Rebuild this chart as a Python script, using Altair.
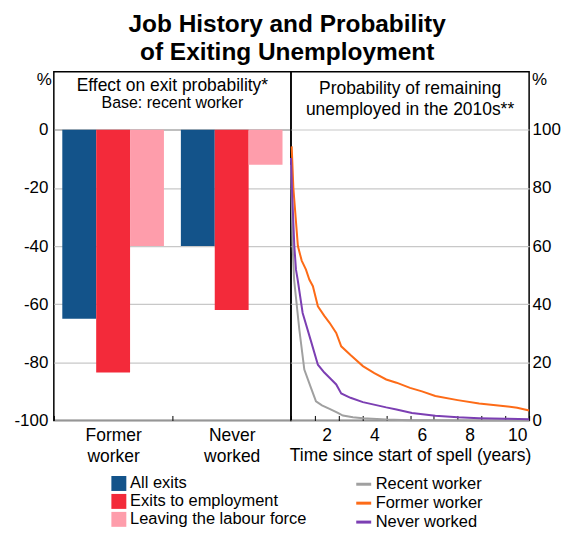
import altair as alt
import pandas as pd

# ---------------- data ----------------
groups = ["Former worker", "Never worked"]
bar_series = ["All exits", "Exits to employment", "Leaving the labour force"]
former_worker_effect = [-65, -83.5, -40]
never_worked_effect = [-40, -62, -12]
bar_colors = ["#13538a", "#f32a3a", "#fe9dab"]

line_series = ["Recent worker", "Former worker", "Never worked"]
line_colors = ["#a0a0a0", "#fd6b17", "#7c3fb3"]

recent_years = [0.0, 0.07, 0.13, 0.35, 0.56, 0.84, 1.05, 1.3, 1.62, 1.97, 2.18, 2.6, 3.02, 4.0, 5.0, 6.0, 8.0, 10.0]
recent_vals = [88, 60, 48.5, 31.3, 17.5, 11.2, 6.6, 5.2, 4.0, 2.6, 1.7, 1.1, 0.8, 0.3, 0.1, 0.05, 0.0, 0.0]

former_years = [0.03, 0.1, 0.29, 0.45, 0.63, 0.77, 0.92, 1.13, 1.4, 1.62, 1.9, 2.11, 2.5, 3.02, 3.5, 4.0, 4.43, 5.0, 5.5, 6.06, 7.0, 7.9, 9.0, 9.5, 10.0]
former_vals = [94.3, 80, 60, 55, 51.9, 48.5, 46.2, 39.3, 36, 33.6, 30.1, 25.5, 22.5, 18.7, 16.3, 14.1, 13.0, 11.2, 10.0, 8.4, 7.0, 5.8, 4.9, 4.4, 3.4]

never_years = [0.0, 0.04, 0.14, 0.21, 0.28, 0.49, 0.84, 1.13, 1.4, 1.62, 1.9, 2.11, 2.5, 3.02, 4.0, 4.43, 5.08, 6.06, 7.0, 7.9, 9.0, 10.0]
never_vals = [90.3, 80, 60, 51.9, 48.5, 37, 27.3, 19.2, 16.5, 14.7, 12.4, 9.3, 7.8, 6.3, 4.5, 3.8, 2.6, 1.6, 1.1, 0.8, 0.6, 0.4]

# ---------------- tables ----------------
bars_df = pd.DataFrame({
    "group": [groups[0]] * 3 + [groups[1]] * 3,
    "series": bar_series * 2,
    "value": former_worker_effect + never_worked_effect,
})

lines_df = pd.concat([
    pd.DataFrame({"series": line_series[0], "year": recent_years, "value": recent_vals}),
    pd.DataFrame({"series": line_series[1], "year": former_years, "value": former_vals}),
    pd.DataFrame({"series": line_series[2], "year": never_years, "value": never_vals}),
], ignore_index=True)
lines_df["order"] = lines_df["series"].map({s: i for i, s in enumerate(line_series)})

PW_L, PW_R, PH = 238, 239, 350
FONT = "Liberation Sans"


def note(text, x, y, size):
    return alt.Chart(pd.DataFrame({"t": [text]})).mark_text(
        fontSize=size, font=FONT, color="black", align="center", baseline="middle"
    ).encode(text="t:N", x=alt.value(x), y=alt.value(y))


# ---------------- left panel ----------------
bars = alt.Chart(bars_df).mark_bar().encode(
    x=alt.X("group:N", sort=groups,
            scale=alt.Scale(paddingInner=0, paddingOuter=0),
            axis=alt.Axis(title=None, labelAngle=0, labelExpr="split(datum.label, ' ')",
                          labelLineHeight=21, tickBand="extent", offset=-5, tickSize=5,
                          domain=False, labelPadding=6, tickColor="black",
                          labelFontSize=17.5)),
    xOffset=alt.XOffset("series:N", sort=bar_series,
                        scale=alt.Scale(paddingInner=0, paddingOuter=0.25)),
    y=alt.Y("value:Q", scale=alt.Scale(domain=[-100, 20], nice=False),
            axis=alt.Axis(values=[-100, -80, -60, -40, -20, 0], title="%", titleAngle=0,
                          labelExpr="'' + datum.value",
                          titleAlign="center", titleBaseline="middle", titleX=-10, titleY=8,
                          grid=True, domain=False, ticks=False, labelPadding=6,
                          gridColor={"condition": {"test": "datum.value === 0", "value": "#808080"},
                                     "value": "#c8c8c8"},
                          gridWidth=1.2)),
    color=alt.Color("series:N", sort=bar_series,
                    scale=alt.Scale(domain=bar_series, range=bar_colors),
                    legend=alt.Legend(title=None, orient="none", legendX=57, legendY=405,
                                      symbolType="square", symbolSize=225, symbolOpacity=1,
                                      symbolStrokeWidth=0, labelFontSize=16.5, labelOffset=3,
                                      rowPadding=1, padding=0, labelLimit=300,
                                      direction="vertical")),
)

left = alt.layer(
    bars,
    note("Effect on exit probability*", PW_L / 2, 14, 17.5),
    note("Base: recent worker", PW_L / 2, 31, 16),
).properties(width=PW_L, height=PH)

# ---------------- right panel ----------------
lines = alt.Chart(lines_df).mark_line(strokeWidth=2).encode(
    x=alt.X("year:Q", scale=alt.Scale(domain=[0, 10], nice=False),
            axis=alt.Axis(values=list(range(1, 11)),
                          labelExpr="datum.value % 2 === 0 ? datum.label : ''",
                          labelOffset=-PW_R / 20, labelFlush=False, labelOverlap=False,
                          offset=-5, tickSize=5, domain=False, grid=False, labelPadding=6,
                          labelFontSize=17.5,
                          title="Time since start of spell (years)", titlePadding=3,
                          titleFontSize=17.5, tickColor="black")),
    y=alt.Y("value:Q", scale=alt.Scale(domain=[0, 120], nice=False),
            axis=alt.Axis(orient="right", values=[0, 20, 40, 60, 80, 100], title="%",
                          titleAngle=0, titleAlign="center", titleBaseline="middle",
                          titleX=10, titleY=8, grid=True, gridColor="#c8c8c8", gridWidth=1.2,
                          domain=False, ticks=False, labelPadding=3)),
    stroke=alt.Stroke("series:N", sort=line_series,
                      scale=alt.Scale(domain=line_series, range=line_colors),
                      legend=alt.Legend(title=None, orient="none", legendX=64, legendY=405,
                                        symbolType="stroke", symbolSize=225,
                                        symbolStrokeWidth=3, labelFontSize=16.5, labelOffset=3,
                                        rowPadding=1, padding=0, labelLimit=300,
                                        direction="vertical")),
    order=alt.Order("order:Q"),
)

right = alt.layer(
    lines,
    note("Probability of remaining", PW_R / 2, 17, 17.5),
    note("unemployed in the 2010s**", PW_R / 2, 38, 17.5),
).properties(width=PW_R, height=PH)

chart = alt.hconcat(left, right, spacing=0, bounds="flush").resolve_scale(
    x="independent", y="independent", color="independent", stroke="independent"
).properties(
    title=alt.TitleParams(["Job History and Probability", "of Exiting Unemployment"],
                          fontSize=24.5, fontWeight="bold", font=FONT, color="black",
                          anchor="middle", lineHeight=28, offset=5),
    padding={"left": 5, "top": 2, "right": 0, "bottom": 0},
).configure(font=FONT).configure_view(
    stroke="black", strokeWidth=1.5
).configure_axis(
    labelColor="black", titleColor="black", labelFontSize=17, titleFontSize=17,
    titleFontWeight="normal", labelFont=FONT, titleFont=FONT
).configure_legend(
    labelColor="black", labelFont=FONT
)

chart.save("out.html", embed_options={"renderer": "svg", "actions": False})
